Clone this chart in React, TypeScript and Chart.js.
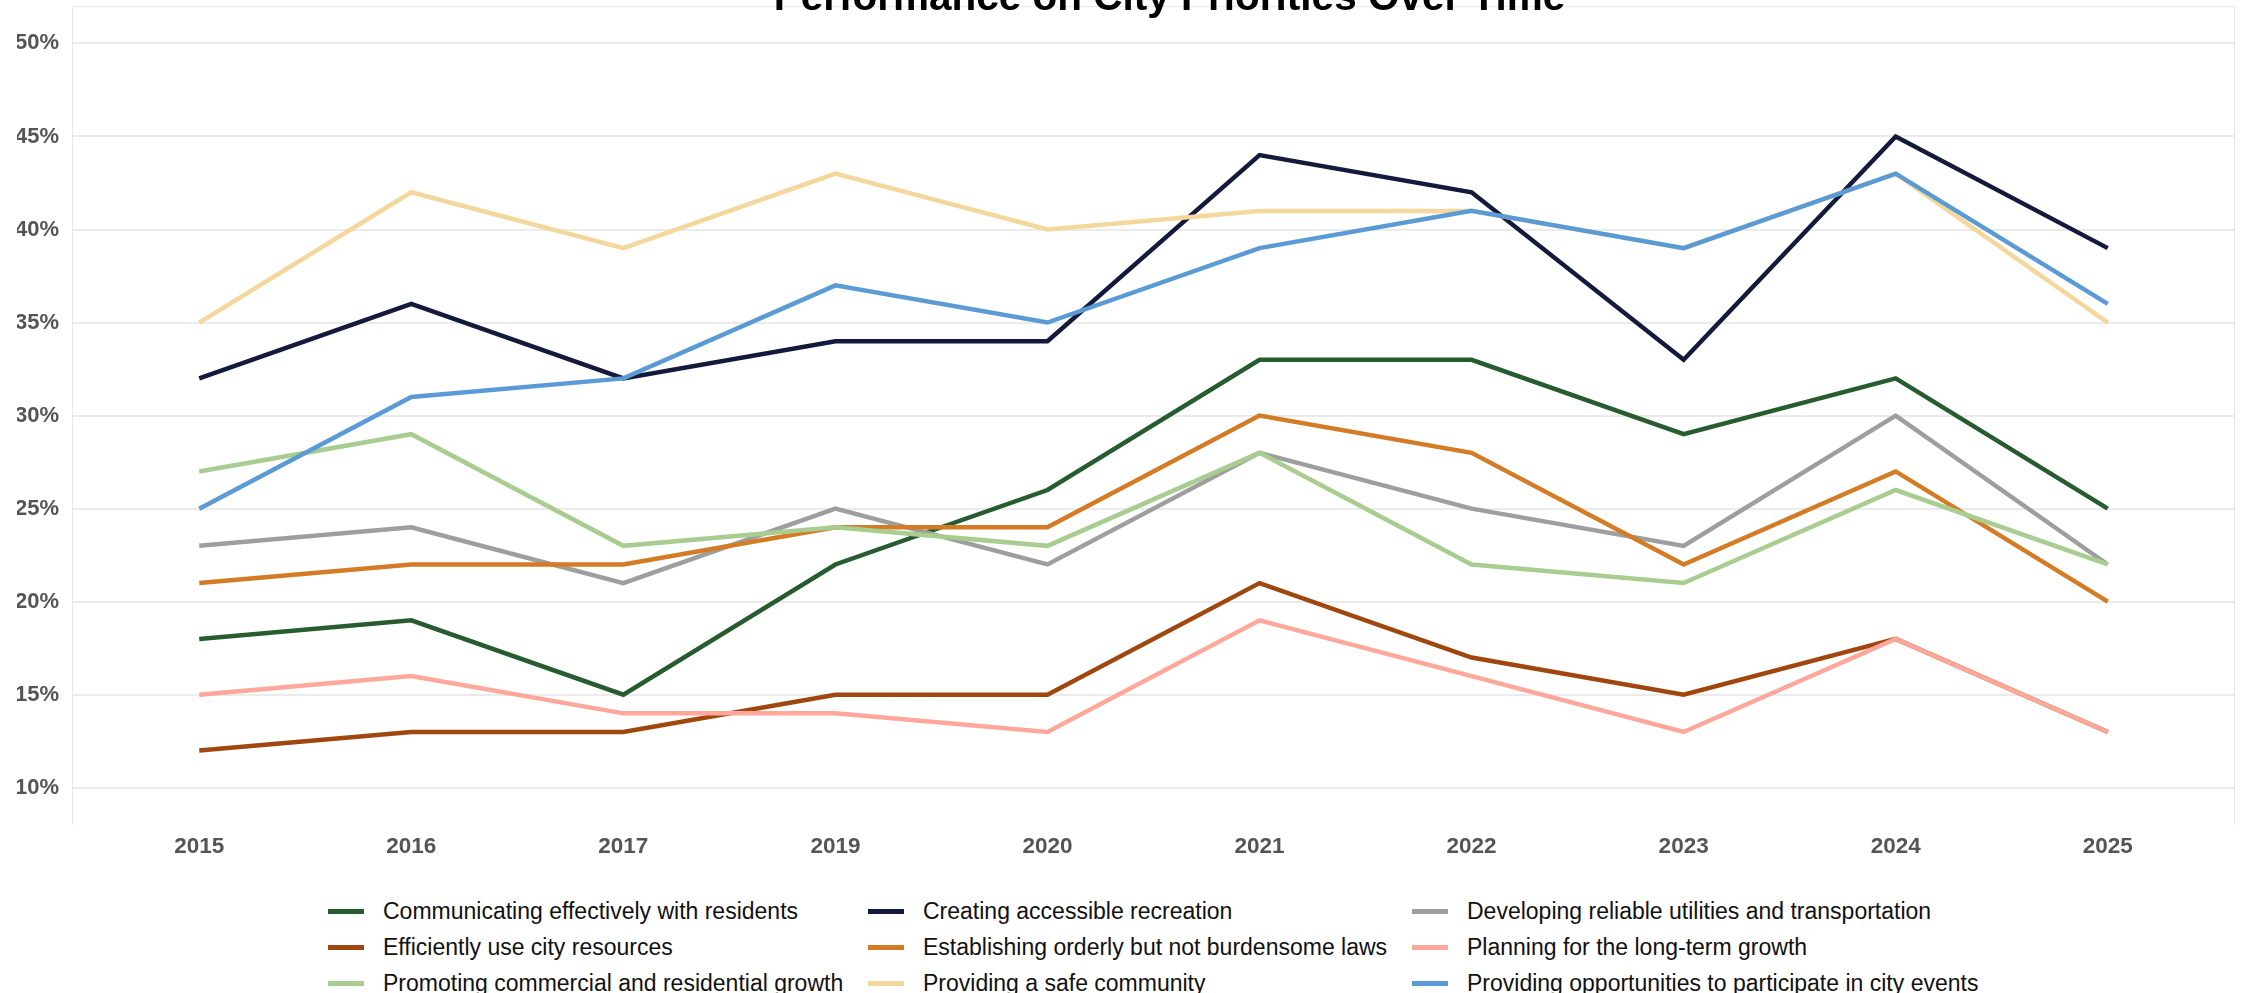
import React, { useEffect, useRef } from "react";
import { Chart, registerables } from "chart.js";

Chart.register(...registerables);

const years = ["2015", "2016", "2017", "2019", "2020", "2021", "2022", "2023", "2024", "2025"];

const seriesNames = [
  "Communicating effectively with residents",
  "Creating accessible recreation",
  "Developing reliable utilities and transportation",
  "Efficiently use city resources",
  "Establishing orderly but not burdensome laws",
  "Planning for the long-term growth",
  "Promoting commercial and residential growth",
  "Providing a safe community",
  "Providing opportunities to participate in city events",
];

const communicating = [18, 19, 15, 22, 26, 33, 33, 29, 32, 25];
const recreation = [32, 36, 32, 34, 34, 44, 42, 33, 45, 39];
const utilities = [23, 24, 21, 25, 22, 28, 25, 23, 30, 22];
const resources = [12, 13, 13, 15, 15, 21, 17, 15, 18, 13];
const laws = [21, 22, 22, 24, 24, 30, 28, 22, 27, 20];
const planning = [15, 16, 14, 14, 13, 19, 16, 13, 18, 13];
const commercial = [27, 29, 23, 24, 23, 28, 22, 21, 26, 22];
const safety = [35, 42, 39, 43, 40, 41, 41, 39, 43, 35];
const events = [25, 31, 32, 37, 35, 39, 41, 39, 43, 36];

const seriesValues = [communicating, recreation, utilities, resources, laws, planning, commercial, safety, events];

const colors = [
  "#265c2f",
  "#141a3b",
  "#9e9e9e",
  "#a0460f",
  "#d47b25",
  "#ffa79b",
  "#a9cd90",
  "#f4d79c",
  "#5b9bd5",
];

const yTicks = [10, 15, 20, 25, 30, 35, 40, 45, 50];

const FONT = "'Liberation Sans', Arial, sans-serif";

const areaBorders = {
  id: "areaBorders",
  beforeDatasetsDraw(chart: any) {
    const { ctx, chartArea: a } = chart;
    ctx.save();
    ctx.strokeStyle = "#e6e6e6";
    ctx.lineWidth = 1;
    ctx.beginPath();
    ctx.moveTo(a.left + 0.5, a.bottom);
    ctx.lineTo(a.left + 0.5, a.top + 0.5);
    ctx.lineTo(a.right - 0.5, a.top + 0.5);
    ctx.lineTo(a.right - 0.5, a.bottom);
    ctx.stroke();
    ctx.restore();
  },
};

export default function App() {
  const canvasRef = useRef<HTMLCanvasElement | null>(null);

  useEffect(() => {
    if (!canvasRef.current) return;
    const chart = new Chart(canvasRef.current, {
      type: "line",
      data: {
        datasets: seriesNames.map((name, i) => ({
          label: name,
          data: seriesValues[i].map((v, j) => ({ x: j, y: v })),
          borderColor: colors[i],
          backgroundColor: colors[i],
          borderWidth: 4.5,
          pointRadius: 0,
          pointHoverRadius: 0,
          fill: false,
          tension: 0,
          order: seriesNames.length - i,
        })),
      },
      options: {
        animation: false,
        responsive: true,
        maintainAspectRatio: false,
        layout: { padding: { top: 26, left: 9, right: 1, bottom: 0 } },
        plugins: {
          legend: { display: false },
          title: { display: false },
          tooltip: { enabled: false },
        },
        scales: {
          x: {
            type: "linear",
            min: -0.6,
            max: 9.6,
            afterBuildTicks: (s: any) => {
              s.ticks = years.map((_, i) => ({ value: i }));
            },
            ticks: {
              callback: (v: any) => years[v],
              font: { family: FONT, size: 22.5, weight: "bold" },
              color: "#555555",
              padding: 8,
              autoSkip: false,
              maxRotation: 0,
            },
            grid: { display: false, drawTicks: false },
            border: { display: false },
          },
          y: {
            min: 8,
            max: 52,
            afterBuildTicks: (s: any) => {
              s.ticks = yTicks.map((v) => ({ value: v }));
            },
            afterFit: (s: any) => {
              s.width = 55;
            },
            ticks: {
              callback: (v: any) => v + "%",
              font: { family: FONT, size: 22, weight: "bold" },
              color: "#555555",
              padding: 13,
            },
            grid: { color: "#ebebeb", lineWidth: 2, drawTicks: false },
            border: { display: false },
          },
        },
      },
      plugins: [areaBorders],
    } as any);
    return () => chart.destroy();
  }, []);

  return (
    <div style={{ position: "fixed", left: 0, top: 0, width: 2244, height: 993, overflow: "hidden", background: "#ffffff" }}>
      <div style={{ position: "absolute", left: 8, top: -20, width: 2228, height: 888 }}>
        <canvas ref={canvasRef} />
      </div>
      <div
        style={{
          position: "absolute",
          left: 1169.5,
          top: -24,
          transform: "translateX(-50%)",
          whiteSpace: "nowrap",
          fontFamily: FONT,
          fontWeight: "bold",
          fontSize: 40.5,
          lineHeight: "40px",
          color: "#000000",
        }}
      >
        Performance on City Priorities Over Time
      </div>
      <div
        style={{
          position: "absolute",
          left: 328,
          top: 893,
          display: "grid",
          gridTemplateColumns: "540px 544px auto",
          fontFamily: FONT,
          fontSize: 23,
          color: "#111111",
        }}
      >
        {seriesNames.map((name, i) => (
          <div key={name} style={{ display: "flex", alignItems: "center", height: 36, whiteSpace: "nowrap" }}>
            <span style={{ display: "inline-block", width: 36, height: 5, background: colors[i], marginRight: 19, flexShrink: 0 }} />
            <span>{name}</span>
          </div>
        ))}
      </div>
    </div>
  );
}
